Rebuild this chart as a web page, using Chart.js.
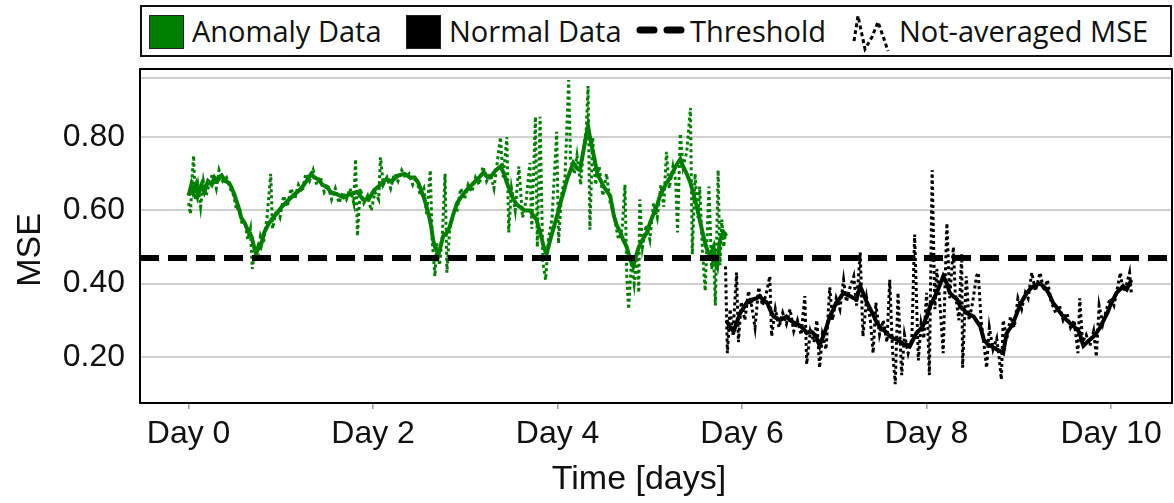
<!DOCTYPE html>
<html>
<head>
<meta charset="utf-8">
<script src="https://cdn.jsdelivr.net/npm/chart.js@4.4.1/dist/chart.umd.min.js"></script>
<style>
  body { margin: 0; background: #fff; }
  #wrap { position: relative; width: 1174px; height: 503px; }
  #chart { position: absolute; left: 0; top: 0; }
  #legend {
    position: absolute; left: 140px; top: 5px; width: 1028px; height: 48px;
    border: 2px solid #111; background: #fff;
    font-family: "Open Sans", "Noto Sans", sans-serif; font-size: 29px; color: #111;
  }
  #legend .item { position: absolute; top: 0; height: 48px; line-height: 48px; white-space: nowrap; }
  #legend .sw { position: absolute; top: 8px; width: 33px; height: 32px; border: 1px solid #222; }
  #legend svg { position: absolute; }
</style>
</head>
<body>
<div id="wrap">
  <canvas id="chart" width="1174" height="503"></canvas>
  <div id="legend"></div>
</div>
<script>
// ---- data ----
const xTickDays = [0, 2, 4, 6, 8, 10];
const yTickValues = [0.2, 0.4, 0.6, 0.8];
const thresholdValue = 0.47;

// averaged MSE, anomaly period: [day, mse]
const anomalyAvg = [
  [0.00,.64],[0.03,.67],[0.05,.65],[0.08,.67],[0.10,.64],[0.14,.67],[0.17,.65],[0.21,.68],[0.25,.67],[0.28,.69],
  [0.31,.68],[0.36,.695],[0.40,.68],[0.44,.675],[0.47,.66],[0.50,.64],[0.54,.61],[0.57,.58],[0.61,.565],[0.65,.54],
  [0.68,.53],[0.70,.51],[0.73,.48],[0.76,.505],[0.78,.50],[0.82,.54],[0.86,.56],[0.90,.575],[0.95,.59],[1.01,.61],
  [1.07,.625],[1.13,.64],[1.20,.655],[1.25,.67],[1.29,.685],[1.33,.70],[1.36,.69],[1.41,.685],[1.45,.67],[1.50,.665],
  [1.54,.65],[1.60,.645],[1.68,.635],[1.75,.645],[1.83,.65],[1.89,.63],[1.95,.63],[2.01,.655],[2.08,.67],[2.14,.685],
  [2.20,.68],[2.27,.695],[2.34,.70],[2.40,.69],[2.45,.69],[2.49,.675],[2.52,.655],[2.55,.635],[2.58,.61],[2.61,.58],
  [2.63,.555],[2.65,.52],[2.67,.50],[2.69,.49],[2.71,.48],[2.74,.51],[2.76,.53],[2.80,.54],[2.83,.555],[2.87,.59],
  [2.91,.62],[2.95,.635],[2.98,.645],[3.03,.66],[3.09,.675],[3.15,.69],[3.20,.705],[3.24,.69],[3.27,.69],[3.33,.71],
  [3.38,.72],[3.42,.70],[3.45,.675],[3.49,.65],[3.52,.63],[3.56,.615],[3.59,.61],[3.64,.60],[3.70,.60],[3.74,.585],
  [3.77,.575],[3.81,.54],[3.85,.50],[3.88,.48],[3.92,.52],[3.96,.555],[4.00,.59],[4.03,.62],[4.07,.655],[4.10,.683],
  [4.14,.71],[4.17,.73],[4.21,.715],[4.24,.71],[4.27,.75],[4.30,.79],[4.33,.83],[4.35,.80],[4.37,.775],[4.40,.74],
  [4.43,.70],[4.47,.68],[4.50,.665],[4.54,.65],[4.57,.64],[4.61,.585],[4.64,.56],[4.68,.54],[4.71,.52],[4.75,.50],
  [4.78,.47],[4.82,.447],[4.85,.475],[4.88,.50],[4.92,.52],[4.97,.54],[5.00,.565],[5.04,.59],[5.08,.615],[5.11,.64],
  [5.15,.66],[5.18,.675],[5.22,.69],[5.26,.71],[5.29,.725],[5.33,.74],[5.36,.72],[5.40,.70],[5.44,.675],[5.47,.647],
  [5.51,.61],[5.54,.575],[5.58,.53],[5.61,.50],[5.65,.475],[5.69,.50],[5.71,.46],[5.73,.447],[5.76,.52],[5.80,.54],
  [5.83,.53]
];

// not-averaged MSE, anomaly period
const anomalyRaw = [
  [0.00,.62],[0.02,.59],[0.04,.70],[0.054,.75],[0.07,.63],[0.10,.67],[0.13,.61],[0.16,.68],[0.19,.64],[0.22,.67],
  [0.26,.70],[0.30,.66],[0.33,.71],[0.37,.68],[0.41,.69],[0.45,.66],[0.49,.64],[0.52,.60],[0.55,.61],[0.58,.56],
  [0.61,.57],[0.64,.52],[0.67,.55],[0.69,.44],[0.72,.50],[0.75,.47],[0.78,.53],[0.81,.51],[0.85,.58],[0.89,.70],
  [0.91,.55],[0.95,.60],[0.99,.58],[1.03,.64],[1.07,.61],[1.11,.66],[1.15,.63],[1.19,.67],[1.23,.65],[1.27,.70],
  [1.31,.68],[1.35,.71],[1.39,.67],[1.43,.69],[1.47,.65],[1.51,.67],[1.55,.63],[1.59,.66],[1.63,.62],[1.67,.65],
  [1.71,.63],[1.75,.66],[1.79,.62],[1.81,.74],[1.83,.53],[1.86,.66],[1.90,.62],[1.94,.64],[1.98,.60],[2.02,.65],
  [2.06,.63],[2.08,.745],[2.11,.67],[2.15,.69],[2.19,.66],[2.23,.70],[2.27,.68],[2.31,.71],[2.35,.69],[2.39,.70],
  [2.43,.67],[2.47,.69],[2.51,.64],[2.55,.66],[2.58,.59],[2.62,.71],[2.64,.52],[2.67,.42],[2.69,.51],[2.72,.45],
  [2.75,.53],[2.78,.70],[2.80,.43],[2.83,.55],[2.87,.59],[2.91,.60],[2.95,.66],[2.99,.63],[3.03,.67],[3.07,.65],
  [3.11,.69],[3.15,.67],[3.19,.72],[3.23,.68],[3.27,.70],[3.31,.66],[3.35,.74],[3.38,.80],[3.41,.69],[3.45,.80],
  [3.47,.54],[3.50,.66],[3.54,.60],[3.58,.72],[3.62,.58],[3.66,.63],[3.70,.73],[3.72,.55],[3.76,.856],[3.78,.50],
  [3.81,.856],[3.84,.46],[3.87,.41],[3.90,.52],[3.94,.58],[3.99,.815],[4.01,.51],[4.04,.64],[4.08,.69],[4.12,.956],
  [4.14,.74],[4.18,.70],[4.21,.75],[4.25,.67],[4.28,.77],[4.31,.82],[4.33,.94],[4.35,.547],[4.38,.80],[4.41,.67],
  [4.45,.72],[4.49,.64],[4.53,.70],[4.57,.62],[4.60,.60],[4.63,.56],[4.66,.52],[4.70,.55],[4.73,.67],[4.75,.42],
  [4.77,.33],[4.80,.46],[4.83,.40],[4.86,.48],[4.88,.375],[4.89,.63],[4.92,.50],[4.96,.56],[5.00,.52],[5.04,.62],
  [5.08,.58],[5.12,.67],[5.15,.61],[5.18,.76],[5.21,.66],[5.25,.72],[5.28,.68],[5.30,.54],[5.33,.81],[5.36,.72],
  [5.40,.76],[5.44,.88],[5.46,.48],[5.49,.70],[5.52,.58],[5.54,.665],[5.57,.49],[5.60,.38],[5.62,.52],[5.64,.665],
  [5.67,.44],[5.69,.48],[5.71,.34],[5.74,.71],[5.76,.45],[5.78,.575],[5.80,.50],[5.82,.54]
];

// averaged MSE, normal period
const normalAvg = [
  [5.83,.30],[5.85,.29],[5.87,.28],[5.91,.27],[5.95,.30],[5.98,.32],[6.02,.335],[6.05,.348],[6.09,.35],[6.12,.357],
  [6.16,.36],[6.19,.366],[6.23,.355],[6.27,.348],[6.31,.325],[6.34,.31],[6.38,.305],[6.41,.30],[6.45,.305],[6.48,.31],
  [6.52,.30],[6.56,.293],[6.60,.29],[6.63,.284],[6.67,.275],[6.70,.265],[6.74,.27],[6.77,.265],[6.81,.25],[6.84,.23],
  [6.86,.245],[6.88,.256],[6.92,.285],[6.95,.31],[6.99,.33],[7.02,.348],[7.06,.36],[7.10,.375],[7.13,.37],[7.17,.366],
  [7.21,.36],[7.24,.357],[7.26,.375],[7.28,.393],[7.31,.375],[7.35,.35],[7.39,.33],[7.43,.31],[7.46,.293],[7.50,.28],
  [7.53,.274],[7.57,.265],[7.60,.256],[7.64,.25],[7.68,.247],[7.72,.24],[7.75,.234],[7.79,.232],[7.82,.23],[7.86,.25],
  [7.89,.265],[7.93,.275],[7.96,.284],[8.00,.31],[8.04,.34],[8.08,.36],[8.11,.375],[8.15,.40],[8.18,.42],[8.22,.40],
  [8.25,.375],[8.29,.365],[8.33,.357],[8.36,.34],[8.40,.33],[8.43,.32],[8.47,.315],[8.51,.31],[8.55,.295],[8.58,.284],
  [8.62,.247],[8.66,.235],[8.69,.23],[8.73,.225],[8.76,.22],[8.80,.215],[8.83,.21],[8.85,.24],[8.87,.265],[8.91,.28],
  [8.94,.293],[8.98,.32],[9.01,.34],[9.05,.36],[9.09,.375],[9.12,.385],[9.16,.393],[9.20,.397],[9.23,.40],[9.27,.392],
  [9.30,.384],[9.34,.365],[9.37,.348],[9.41,.335],[9.45,.32],[9.48,.31],[9.52,.30],[9.56,.29],[9.59,.284],[9.63,.275],
  [9.66,.265],[9.68,.245],[9.70,.23],[9.74,.24],[9.77,.247],[9.81,.255],[9.84,.265],[9.88,.28],[9.92,.30],[9.96,.32],
  [9.99,.34],[10.03,.36],[10.06,.375],[10.10,.385],[10.13,.393],[10.17,.384],[10.20,.40],[10.22,.41]
];

// not-averaged MSE, normal period
const normalRaw = [
  [5.82,.447],[5.84,.21],[5.87,.33],[5.90,.26],[5.94,.43],[5.96,.24],[5.99,.35],[6.03,.30],[6.07,.38],[6.11,.33],
  [6.14,.28],[6.18,.39],[6.22,.34],[6.26,.37],[6.30,.42],[6.32,.256],[6.36,.33],[6.40,.28],[6.44,.32],[6.48,.29],
  [6.52,.33],[6.56,.27],[6.60,.30],[6.64,.26],[6.68,.366],[6.70,.18],[6.74,.27],[6.78,.24],[6.81,.30],[6.84,.17],
  [6.87,.26],[6.91,.22],[6.95,.39],[6.98,.30],[7.02,.36],[7.06,.33],[7.10,.41],[7.13,.35],[7.17,.39],[7.21,.42],
  [7.24,.34],[7.28,.485],[7.31,.256],[7.35,.36],[7.39,.30],[7.42,.21],[7.45,.348],[7.49,.26],[7.53,.30],[7.57,.24],
  [7.60,.41],[7.63,.22],[7.66,.125],[7.69,.375],[7.73,.15],[7.76,.26],[7.80,.21],[7.84,.25],[7.87,.534],[7.91,.19],
  [7.94,.29],[7.97,.25],[8.00,.375],[8.03,.15],[8.06,.71],[8.09,.33],[8.11,.44],[8.14,.36],[8.18,.21],[8.20,.40],
  [8.22,.565],[8.25,.36],[8.29,.50],[8.31,.375],[8.35,.30],[8.38,.48],[8.39,.17],[8.43,.42],[8.46,.30],[8.50,.35],
  [8.54,.42],[8.56,.43],[8.59,.30],[8.63,.217],[8.65,.17],[8.68,.28],[8.72,.22],[8.76,.25],[8.79,.19],[8.81,.138],
  [8.83,.30],[8.87,.25],[8.91,.31],[8.95,.28],[8.99,.36],[9.03,.33],[9.07,.375],[9.10,.36],[9.14,.43],[9.18,.38],
  [9.23,.43],[9.27,.38],[9.31,.41],[9.35,.35],[9.40,.32],[9.44,.34],[9.48,.30],[9.52,.32],[9.56,.28],[9.60,.30],
  [9.64,.21],[9.66,.36],[9.69,.24],[9.73,.26],[9.77,.23],[9.81,.27],[9.84,.20],[9.87,.34],[9.91,.29],[9.95,.33],
  [9.99,.36],[10.03,.34],[10.07,.39],[10.10,.43],[10.13,.38],[10.17,.40],[10.20,.43],[10.22,.37]
];

const GREEN = '#008000';
const X_MIN = -0.527, X_MAX = 10.66;
const Y_MIN = 0.0737, Y_MAX = 0.9864;
const TOP_GRID = 0.961;  // unlabeled grey line near the top of the frame

function toXY(pairs) {
    return pairs.map(p => ({ x: p[0], y: p[1] }));
}

// Legend (html, drawn above the plot frame)
function buildLegend() {
    const legend = document.getElementById('legend');
    legend.innerHTML = `
        <div class="sw" style="left:7px;background:${GREEN};"></div>
        <div class="item" style="left:50px;">Anomaly Data</div>
        <div class="sw" style="left:264px;background:#000;"></div>
        <div class="item" style="left:307px;">Normal Data</div>
        <svg style="left:494px;top:16px;" width="54" height="14">
            <line x1="4" y1="7" x2="52" y2="7" stroke="#000" stroke-width="7"
                  stroke-linecap="round" stroke-dasharray="14 13"/>
        </svg>
        <div class="item" style="left:548px;">Threshold</div>
        <svg style="left:709px;top:6px;" width="42" height="42">
            <polyline points="3,28 7,3 14,36 21,24 27,9 33,26 37,38" fill="none" stroke="#000"
                      stroke-width="3" stroke-dasharray="4 3"/>
        </svg>
        <div class="item" style="left:757px;">Not-averaged MSE</div>
    `;
}
buildLegend();

// frame around the plot area plus the two axis titles
const frameAndTitles = {
    id: 'frameAndTitles',
    afterDraw(chart) {
        const { ctx, chartArea } = chart;
        ctx.save();
        ctx.strokeStyle = '#000';
        ctx.lineWidth = 2;
        ctx.strokeRect(chartArea.left, chartArea.top, chartArea.right - chartArea.left, chartArea.bottom - chartArea.top);

        ctx.fillStyle = '#111';
        ctx.font = '34px "Liberation Sans", Arial, sans-serif';
        ctx.textAlign = 'center';
        ctx.textBaseline = 'alphabetic';
        ctx.fillText('Time [days]', 639, 489);

        ctx.translate(40, 250);
        ctx.rotate(-Math.PI / 2);
        ctx.fillText('MSE', 0, 0);
        ctx.restore();
    }
};

const ctx = document.getElementById('chart');
const chart = new Chart(ctx, {
    type: 'line',
    data: {
        datasets: [
            {
                label: 'Threshold',
                data: [{ x: X_MIN, y: thresholdValue }, { x: X_MAX, y: thresholdValue }],
                borderColor: '#000',
                borderWidth: 6,
                borderDash: [19, 9],
                pointRadius: 0,
                order: 0
            },
            {
                label: 'Anomaly Data',
                data: toXY(anomalyAvg),
                borderColor: GREEN,
                borderWidth: 4,
                pointRadius: 0,
                order: 1
            },
            {
                label: 'Normal Data',
                data: toXY(normalAvg),
                borderColor: '#000',
                borderWidth: 4,
                pointRadius: 0,
                order: 1
            },
            {
                label: 'Not-averaged MSE (anomaly)',
                data: toXY(anomalyRaw),
                borderColor: GREEN,
                borderWidth: 3,
                borderDash: [3, 3],
                pointRadius: 0,
                order: 2
            },
            {
                label: 'Not-averaged MSE (normal)',
                data: toXY(normalRaw),
                borderColor: '#000',
                borderWidth: 3,
                borderDash: [3, 3],
                pointRadius: 0,
                order: 2
            }
        ]
    },
    options: {
        responsive: false,
        devicePixelRatio: 1,
        animation: false,
        layout: { padding: { top: 69, right: 2, left: 0, bottom: 0 } },
        plugins: {
            legend: { display: false },
            tooltip: { enabled: false }
        },
        elements: { line: { tension: 0 } },
        scales: {
            x: {
                type: 'linear',
                min: X_MIN,
                max: X_MAX,
                afterBuildTicks: (scale) => {
                    scale.ticks = xTickDays.map(v => ({ value: v }));
                },
                afterFit: (scale) => { scale.height = 100; },
                ticks: {
                    callback: (v) => 'Day ' + v,
                    color: '#111',
                    font: { family: '"Liberation Sans", Arial, sans-serif', size: 32 },
                    padding: 6,
                    maxRotation: 0,
                    autoSkip: false
                },
                grid: {
                    drawOnChartArea: false,
                    drawTicks: true,
                    tickLength: 6,
                    color: '#999',
                    lineWidth: 1.5
                },
                border: { display: false }
            },
            y: {
                min: Y_MIN,
                max: Y_MAX,
                afterBuildTicks: (scale) => {
                    scale.ticks = yTickValues.concat([TOP_GRID]).map(v => ({ value: v }));
                },
                afterFit: (scale) => { scale.width = 140; },
                ticks: {
                    callback: (v) => (v === TOP_GRID ? '' : v.toFixed(2)),
                    color: '#111',
                    font: { family: '"Liberation Sans", Arial, sans-serif', size: 32 },
                    padding: 15
                },
                grid: {
                    drawTicks: false,
                    color: '#d0d0d0',
                    lineWidth: 2
                },
                border: { display: false }
            }
        }
    },
    plugins: [frameAndTitles]
});
</script>
</body>
</html>
